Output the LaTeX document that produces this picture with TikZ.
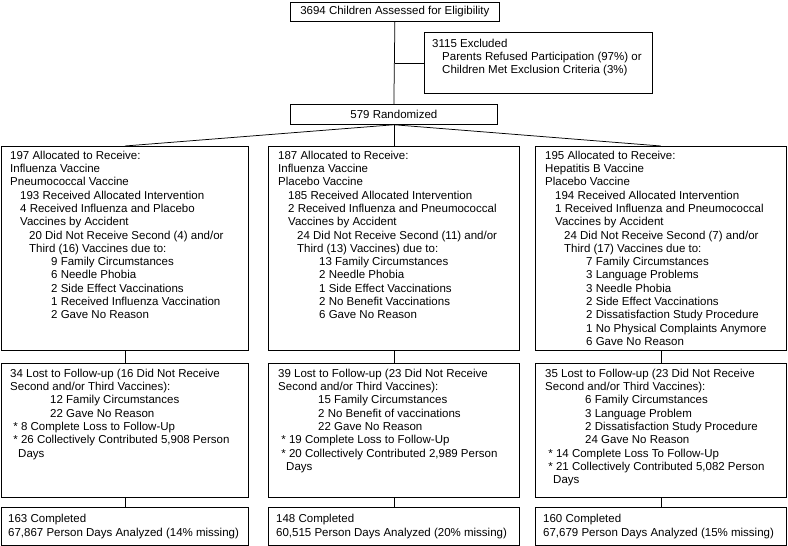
\documentclass[tikz,border=0pt]{standalone}
\usepackage{fontspec}
\setmainfont{Liberation Sans}
\newcommand\indA{\hspace*{10pt}}
\newcommand\indB{\hspace*{19pt}}
\newcommand\indC{\hspace*{41pt}}
\newcommand\indD{\hspace*{40pt}}
\newcommand\indE{\hspace*{8pt}}
\begin{document}
\begin{tikzpicture}[x=1pt,y=-1pt,
  box/.style={draw, line width=0.75pt, rectangle, inner sep=0pt, anchor=north west},
  txt/.style={anchor=north west, align=left, inner sep=0pt, font=\fontsize{11.5}{13.3}\selectfont},
  ctxt/.style={font=\fontsize{11.5}{13.3}\selectfont},
  con/.style={line width=0.75pt}]
\useasboundingbox (0,0) rectangle (788,546);

% top
\node[box, ctxt, minimum width=209pt, minimum height=19pt] (elig) at (290,2) {3694 Children Assessed for Eligibility};
\node[box, minimum width=228pt, minimum height=61pt] (excl) at (424,32) {};
\node[txt] (exclt) at ([shift={(8,6.7)}]excl.north west) {3115 Excluded\\
\indA Parents Refused Participation (97\%) or\\
\indA Children Met Exclusion Criteria (3\%)};
\node[box, ctxt, minimum width=207pt, minimum height=20pt] (rand) at (290,104) {579 Randomized};

\draw[con] (elig.south) -- (rand.north);
\coordinate (j) at (excl.west -| elig.south);
\draw[con] (j) -- (excl.west);

% row 1
\node[box, minimum width=247pt, minimum height=204pt] (a1) at (1,146) {};
\node[box, minimum width=251pt, minimum height=204pt] (b1) at (268,146) {};
\node[box, minimum width=251pt, minimum height=204pt] (c1) at (535,146) {};

\draw[con] (rand.south) -- (a1.north);
\draw[con] (rand.south) -- (b1.north);
\draw[con] (rand.south) -- (c1.north);

\node[txt] (a1t) at ([shift={(9,4.7)}]a1.north west) {197 Allocated to Receive:\\
Influenza Vaccine\\
Pneumococcal Vaccine\\
\indA 193 Received Allocated Intervention\\
\indA 4 Received Influenza and Placebo\\
\indA Vaccines by Accident\\
\indB 20 Did Not Receive Second (4) and/or\\
\indB Third (16) Vaccines due to:\\
\indC 9 Family Circumstances\\
\indC 6 Needle Phobia\\
\indC 2 Side Effect Vaccinations\\
\indC 1 Received Influenza Vaccination\\
\indC 2 Gave No Reason};

\node[txt] (b1t) at ([shift={(10,4.7)}]b1.north west) {187 Allocated to Receive:\\
Influenza Vaccine\\
Placebo Vaccine\\
\indA 185 Received Allocated Intervention\\
\indA 2 Received Influenza and Pneumococcal\\
\indA Vaccines by Accident\\
\indB 24 Did Not Receive Second (11) and/or\\
\indB Third (13) Vaccines) due to:\\
\indC 13 Family Circumstances\\
\indC 2 Needle Phobia\\
\indC 1 Side Effect Vaccinations\\
\indC 2 No Benefit Vaccinations\\
\indC 6 Gave No Reason};

\node[txt] (c1t) at ([shift={(10,4.7)}]c1.north west) {195 Allocated to Receive:\\
Hepatitis B Vaccine\\
Placebo Vaccine\\
\indA 194 Received Allocated Intervention\\
\indA 1 Received Influenza and Pneumococcal\\
\indA Vaccines by Accident\\
\indB 24 Did Not Receive Second (7) and/or\\
\indB Third (17) Vaccines due to:\\
\indC 7 Family Circumstances\\
\indC 3 Language Problems\\
\indC 3 Needle Phobia\\
\indC 2 Side Effect Vaccinations\\
\indC 2 Dissatisfaction Study Procedure\\
\indC 1 No Physical Complaints Anymore\\
\indC 6 Gave No Reason};

% row 2
\node[box, minimum width=247pt, minimum height=134pt] (a2) at (1,363) {};
\node[box, minimum width=251pt, minimum height=134pt] (b2) at (268,363) {};
\node[box, minimum width=251pt, minimum height=134pt] (c2) at (535,363) {};

\draw[con] (a1.south) -- (a2.north);
\draw[con] (b1.south) -- (b2.north);
\draw[con] (c1.south) -- (c2.north);

\node[txt] (a2t) at ([shift={(9,5.7)}]a2.north west) {34 Lost to Follow-up (16 Did Not Receive\\
Second and/or Third Vaccines):\\
\indD 12 Family Circumstances\\
\indD 22 Gave No Reason\\{}
* 8 Complete Loss to Follow-Up\\{}
* 26 Collectively Contributed 5,908 Person\\
\indE Days};

\node[txt] (b2t) at ([shift={(10,5.7)}]b2.north west) {39 Lost to Follow-up (23 Did Not Receive\\
Second and/or Third Vaccines):\\
\indD 15 Family Circumstances\\
\indD 2 No Benefit of vaccinations\\
\indD 22 Gave No Reason\\{}
* 19 Complete Loss to Follow-Up\\{}
* 20 Collectively Contributed 2,989 Person\\
\indE Days};

\node[txt] (c2t) at ([shift={(10,5.7)}]c2.north west) {35 Lost to Follow-up (23 Did Not Receive\\
Second and/or Third Vaccines):\\
\indD 6 Family Circumstances\\
\indD 3 Language Problem\\
\indD 2 Dissatisfaction Study Procedure\\
\indD 24 Gave No Reason\\{}
* 14 Complete Loss To Follow-Up\\{}
* 21 Collectively Contributed 5,082 Person\\
\indE Days};

% row 3
\node[box, minimum width=247pt, minimum height=38pt] (a3) at (1,507) {};
\node[box, minimum width=251pt, minimum height=38pt] (b3) at (268,507) {};
\node[box, minimum width=251pt, minimum height=38pt] (c3) at (535,507) {};

\draw[con] (a2.south) -- (a3.north);
\draw[con] (b2.south) -- (b3.north);
\draw[con] (c2.south) -- (c3.north);

\node[txt, anchor=west] (a3t) at ([xshift=7pt]a3.west) {163 Completed\\
67,867 Person Days Analyzed (14\% missing)};
\node[txt, anchor=west] (b3t) at ([xshift=8pt]b3.west) {148 Completed\\
60,515 Person Days Analyzed (20\% missing)};
\node[txt, anchor=west] (c3t) at ([xshift=8pt]c3.west) {160 Completed\\
67,679 Person Days Analyzed (15\% missing)};
\end{tikzpicture}
\end{document}
